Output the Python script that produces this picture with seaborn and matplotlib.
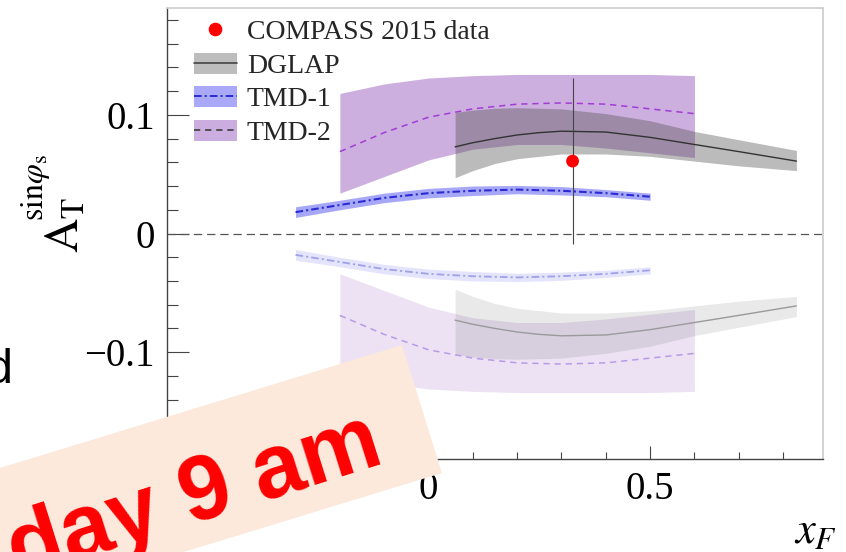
import matplotlib
matplotlib.use('Agg')
import matplotlib.pyplot as plt
import seaborn as sns
from matplotlib.patches import Patch, Polygon
from matplotlib.lines import Line2D
from matplotlib.ticker import MultipleLocator

# ---------------- data ----------------
tmd2_x = [-0.2, -0.1, 0.0, 0.1, 0.2, 0.3, 0.4, 0.5, 0.6]
tmd2_mid = [0.069, 0.085, 0.098, 0.105, 0.109, 0.110, 0.109, 0.105, 0.101]
tmd2_hi = [0.118, 0.126, 0.131, 0.133, 0.134, 0.134, 0.134, 0.134, 0.133]
tmd2_lo = [0.034, 0.048, 0.062, 0.071, 0.075, 0.075, 0.072, 0.068, 0.064]

dglap_x = [0.06, 0.1, 0.15, 0.2, 0.25, 0.3, 0.4, 0.5, 0.6, 0.7, 0.83]
dglap_mid = [0.073, 0.0765, 0.080, 0.083, 0.085, 0.0862, 0.0855, 0.081, 0.075, 0.069, 0.061]
dglap_hi = [0.102, 0.104, 0.1055, 0.106, 0.1055, 0.105, 0.101, 0.095, 0.086, 0.079, 0.070]
dglap_lo = [0.047, 0.053, 0.059, 0.063, 0.065, 0.067, 0.067, 0.065, 0.061, 0.057, 0.053]

tmd1_x = [-0.3, -0.2, -0.1, 0.0, 0.1, 0.2, 0.3, 0.4, 0.5]
tmd1_mid = [0.018, 0.024, 0.030, 0.034, 0.036, 0.037, 0.036, 0.034, 0.031]
tmd1_hi = [0.0225, 0.028, 0.034, 0.038, 0.040, 0.0405, 0.0395, 0.037, 0.034]
tmd1_lo = [0.0135, 0.020, 0.026, 0.030, 0.032, 0.0335, 0.0325, 0.031, 0.028]

data_x = [0.325]
data_y = [0.061]
data_err = [0.070]

legend_labels = ['COMPASS 2015 data', 'DGLAP', 'TMD-1', 'TMD-2']
xtick_vals = [-0.5, 0.0, 0.5]
xtick_labels = ['\u22120.5', '0', '0.5']
ytick_vals = [-0.1, 0.0, 0.1]
ytick_labels = ['\u22120.1', '0', '0.1']
ylabel_main = r'$\mathrm{A}_{\mathrm{T}}$'
ylabel_sup = r'$\mathrm{sin}\varphi_{\mathrm{s}}$'
xlabel_text = r'$x_F$'
overlay_text = 'day 9 am'
side_text = 'd'


def neg(v):
    return [-a for a in v]


# ---------------- style ----------------
sns.set_theme(style='white')
plt.rcParams['font.family'] = ['Liberation Serif', 'DejaVu Serif']
plt.rcParams['mathtext.fontset'] = 'stix'
plt.rcParams['lines.scale_dashes'] = False

W, H = 846, 552
fig = plt.figure(figsize=(W / 100, H / 100), dpi=100)
fig.patch.set_facecolor('white')
ax = fig.add_axes([167 / W, 1 - 459 / H, 656 / W, 451 / H])
ax.set_facecolor('white')

# ---------------- bands ----------------
PURPLE = '#9b5fc0'
GRAY = '#555555'
BLUE = '#5050f0'
ax.fill_between(tmd2_x, tmd2_lo, tmd2_hi, color=PURPLE, alpha=0.5, lw=0, zorder=1)
ax.fill_between(dglap_x, dglap_lo, dglap_hi, color=GRAY, alpha=0.4, lw=0, zorder=2)
ax.fill_between(tmd1_x, tmd1_lo, tmd1_hi, color=BLUE, alpha=0.5, lw=0, zorder=2)

ax.fill_between(tmd2_x, neg(tmd2_hi), neg(tmd2_lo), color=PURPLE, alpha=0.18, lw=0, zorder=1)
ax.fill_between(dglap_x, neg(dglap_hi), neg(dglap_lo), color=GRAY, alpha=0.13, lw=0, zorder=2)
ax.fill_between(tmd1_x, neg(tmd1_hi), neg(tmd1_lo), color=BLUE, alpha=0.15, lw=0, zorder=2)

# ---------------- central lines ----------------
DASH2 = (0, (4.5, 3.5))
DASHDOT = (0, (5.5, 2.2, 1.5, 2.2))
sns.lineplot(x=tmd2_x, y=tmd2_mid, ax=ax, color='#a23cd6', lw=1.1, linestyle=DASH2, errorbar=None, zorder=3)
sns.lineplot(x=dglap_x, y=dglap_mid, ax=ax, color='#333333', lw=1.0, errorbar=None, zorder=3)
sns.lineplot(x=tmd1_x, y=tmd1_mid, ax=ax, color='#2b2bd6', lw=1.5, linestyle=DASHDOT, errorbar=None, zorder=3)

sns.lineplot(x=tmd2_x, y=neg(tmd2_mid), ax=ax, color='#b89be6', lw=1.1, linestyle=DASH2, errorbar=None, zorder=3)
sns.lineplot(x=dglap_x, y=neg(dglap_mid), ax=ax, color='#9a9a9a', lw=1.0, errorbar=None, zorder=3)
sns.lineplot(x=tmd1_x, y=neg(tmd1_mid), ax=ax, color='#a0a0e8', lw=1.3, linestyle=DASHDOT, errorbar=None, zorder=3)

ax.axhline(0, color='#555555', lw=0.9, linestyle=(0, (6, 3.5)), zorder=2.5)

# ---------------- data point ----------------
ax.errorbar(data_x, data_y, yerr=data_err, fmt='none', ecolor='#444444', elinewidth=0.8, capsize=0, zorder=5)
sns.scatterplot(x=data_x, y=data_y, ax=ax, color='#ff0000', s=85, edgecolor='none', zorder=6)

# ---------------- axes ----------------
ax.set_xlim(-0.59, 0.89)
ax.set_ylim(-0.19, 0.19)
ax.set_xticks(xtick_vals)
ax.set_xticklabels(xtick_labels)
ax.set_yticks(ytick_vals)
ax.set_yticklabels(ytick_labels)
ax.xaxis.set_minor_locator(MultipleLocator(0.1))
ax.yaxis.set_minor_locator(MultipleLocator(0.02))
ax.tick_params(axis='y', which='major', direction='in', length=15.8, width=0.8, color='#444444',
               pad=8.6, labelsize=28, labelcolor='black', left=True, right=False)
ax.tick_params(axis='y', which='minor', direction='in', length=7.9, width=0.8, color='#444444',
               left=True, right=False)
ax.tick_params(axis='x', which='major', direction='in', length=9.4, width=0.8, color='#444444',
               pad=8.6, labelsize=28, labelcolor='black', bottom=True, top=False)
ax.tick_params(axis='x', which='minor', direction='in', length=4.7, width=0.8, color='#444444',
               bottom=True, top=False)
for s in ['left', 'bottom']:
    ax.spines[s].set_color('#444444')
    ax.spines[s].set_linewidth(1.0)
for s in ['top', 'right']:
    ax.spines[s].set_color('#d0d0d0')
    ax.spines[s].set_linewidth(1.3)


def fx(px):
    return px / W


def fy(py):
    return 1 - py / H


# y title: A_T with a raised superscript (ROOT style)
ax.set_ylabel(ylabel_main, fontsize=34, color='black')
ax.yaxis.set_label_coords((89 - 167) / 656, (459 - 225) / 451)
fig.text(fx(43), fy(221), ylabel_sup, rotation=90, rotation_mode='anchor', ha='left', va='baseline',
         fontsize=23, color='black')

ax.set_xlabel(xlabel_text, fontsize=32, loc='right', color='black')
ax.xaxis.set_label_coords(1.021, -0.118)

# ---------------- legend ----------------
h_data = Line2D([], [], ls='none', marker='o', color='#ff0000', markersize=8.8)
h_dglap = (Patch(facecolor='#bdbdbd', edgecolor='none'), Line2D([], [], color='#444444', lw=1.2))
h_tmd1 = (Patch(facecolor='#a9a9f7', edgecolor='none'), Line2D([], [], color='#2b2bd6', lw=1.4, ls=DASHDOT))
h_tmd2 = (Patch(facecolor='#cbaedf', edgecolor='none'), Line2D([], [], color='#333333', lw=1.1, ls=DASH2))
ax.legend([h_data, h_dglap, h_tmd1, h_tmd2], legend_labels, loc='upper left',
          bbox_to_anchor=(0.041, 0.976), frameon=False, fontsize=20, handlelength=1.55,
          handleheight=0.79, handletextpad=0.36, labelspacing=0.27, borderpad=0, borderaxespad=0)

# ---------------- slide overlay ----------------
poly = Polygon([(fx(-150), fy(345 + 552 * 0.306)), (fx(402), fy(345)), (fx(442), fy(473)),
                (fx(-110), fy(473 + 552 * 0.306))], closed=True, transform=fig.transFigure,
               facecolor='#fce9dc', edgecolor='none', zorder=10)
fig.add_artist(poly)
fig.text(fx(386), fy(463), overlay_text, rotation=17.5, rotation_mode='anchor', ha='right', va='baseline',
         color='#ff0000', fontsize=65, fontweight='bold', family='Liberation Sans', zorder=11)
fig.text(fx(13), fy(383), side_text, ha='right', va='baseline', fontsize=35, family='Liberation Sans',
         color='black', zorder=11)

fig.savefig('out.png', dpi=100)
